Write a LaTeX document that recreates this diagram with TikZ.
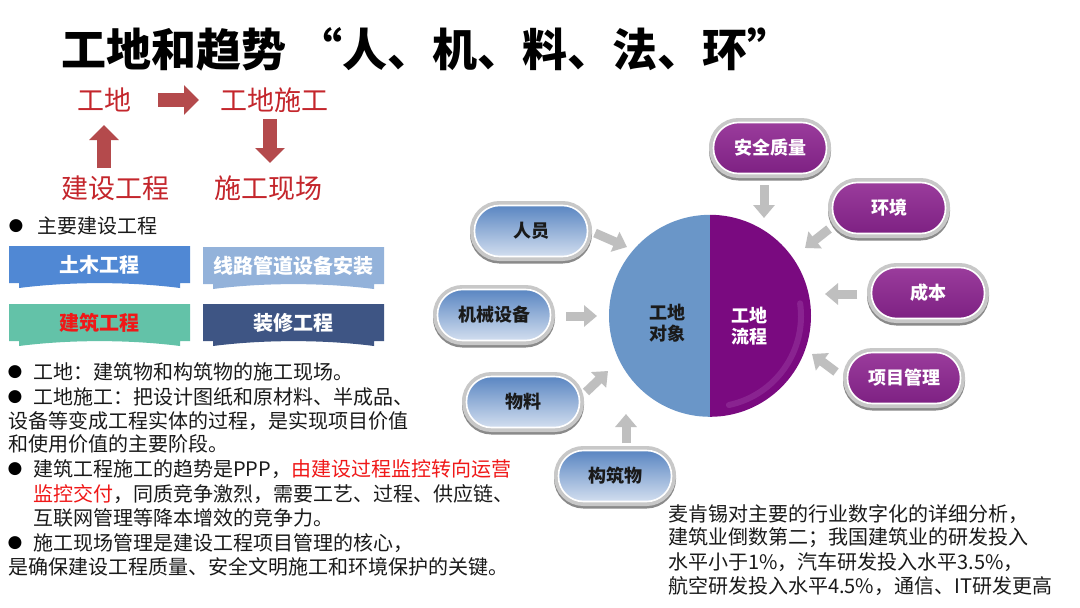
\documentclass[tikz,border=0pt]{standalone}
\usepackage{fontspec}
\setmainfont{Noto Sans CJK SC}
\newfontfamily\dejavu{DejaVu Sans}
\usetikzlibrary{arrows.meta,calc}
\definecolor{txt}{HTML}{1A1A1A}
\definecolor{dred}{HTML}{C4262C}
\definecolor{brred}{HTML}{F01818}
\definecolor{arrred}{HTML}{B44A4C}
\definecolor{arrgray}{HTML}{BFBFBF}
\definecolor{bA}{HTML}{5088D4}
\definecolor{bB}{HTML}{93B2DA}
\definecolor{bC}{HTML}{63C2A8}
\definecolor{bD}{HTML}{3E5584}
\definecolor{bltop}{HTML}{5A86C2}
\definecolor{blbot}{HTML}{D2DEEF}
\definecolor{pltop}{HTML}{9A3C9C}
\definecolor{plbot}{HTML}{7E2183}
\definecolor{rimlight}{HTML}{C8C8C8}
\definecolor{rimdark}{HTML}{8A8A8A}
\definecolor{cblue}{HTML}{6A96C8}
\definecolor{cpurple}{HTML}{7A0A80}
\definecolor{chi}{HTML}{A14AA8}
\tikzset{
 bodytext/.style={anchor=west, inner sep=0pt, text=txt, font=\fontsize{20}{24}\selectfont},
 bul/.style={inner sep=0pt, text=black, font=\dejavu\fontsize{17}{20}\selectfont},
 redlab/.style={inner sep=0pt, text=dred, font=\fontsize{27}{30}\selectfont},
 redarrow/.style={draw=arrred, line width=14pt, -{Triangle[width=29pt,length=15pt]}},
 grayarrow/.style={draw=arrgray, line width=9pt, -{Triangle[width=21pt,length=13pt]}},
 pillbase/.style={rounded corners=25pt, minimum width=113pt, minimum height=51pt, inner sep=0pt,
   draw=white, line width=1.6pt, font=\fontsize{18}{20}\selectfont\bfseries,
   preaction={draw=rimdark, line width=9pt, transform canvas={yshift=-2.5pt}},
   preaction={draw=rimlight, line width=9pt}},
 bluepill/.style={pillbase, top color=bltop, bottom color=blbot, text=txt},
 purplepill/.style={pillbase, top color=pltop, bottom color=plbot, text=white},
 bannertext/.style={inner sep=0pt, font=\fontsize{20}{22}\selectfont\bfseries},
 coretext/.style={inner sep=0pt, align=center, font=\fontsize{18}{21}\selectfont\bfseries},
}
\newcommand\myribbon[6]{%
 \begin{scope}[shift={(#1,#2)}]
 \fill[#3] (0,0) -- (181,0) -- (181,37) -- (171,37) -- (171,42)
   .. controls (120,35.5) and (61,35.5) .. (10,42) -- (10,37) -- (0,37) -- cycle;
 \node[bannertext, text=#6] (#4) at (90.5,19) {#5};
 \end{scope}}
\begin{document}
\begin{tikzpicture}[x=1pt,y=-1pt]
\useasboundingbox (0,0) rectangle (1080,608);
\fill[white] (0,0) rectangle (1080,608);
% title
\node[anchor=west, inner sep=0pt, text=black, font=\fontsize{45}{48}\selectfont\bfseries] (title) at (61,49) {工地和趋势\hspace{11pt}“人、机、料、法、环”};
% red concept labels
\node[redlab] (gd) at (104,100) {工地};
\node[redlab] (gdsg) at (274,100) {工地施工};
\node[redlab] (jsgc) at (115,188) {建设工程};
\node[redlab] (sgxc) at (268,188) {施工现场};
\coordinate (ra1) at (158,100); \coordinate (ra2) at (199,100);
\coordinate (da1) at (270,119); \coordinate (da2) at (270,163);
\coordinate (ua1) at (104,168); \coordinate (ua2) at (104,125);
\draw[redarrow] (ra1) -- (ra2);
\draw[redarrow] (da1) -- (da2);
\draw[redarrow] (ua1) -- (ua2);
% main projects
\node[bul] (b0) at (16,226) {●};
\node[bodytext] (zy) at (37,226) {主要建设工程};
\myribbon{9}{246}{bA}{tm}{土木工程}{white}
\myribbon{203}{247}{bB}{xl}{线路管道设备安装}{white}
\myribbon{9}{304}{bC}{jz}{建筑工程}{brred}
\myribbon{203}{304}{bD}{zx}{装修工程}{white}
% bullet text
\node[bul] (b1) at (15,372) {●};
\node[bodytext] (l1) at (33,372) {工地：建筑物和构筑物的施工现场。};
\node[bul] (b2) at (15,397) {●};
\node[bodytext] (l2) at (33,397) {工地施工：把设计图纸和原材料、半成品、};
\node[bodytext] (l3) at (8,421) {设备等变成工程实体的过程，是实现项目价值};
\node[bodytext] (l4) at (8,444) {和使用价值的主要阶段。};
\node[bul] (b3) at (15,469) {●};
\node[bodytext] (l5) at (33,469) {建筑工程施工的趋势是PPP，\textcolor{brred}{由建设过程监控转向运营}};
\node[bodytext] (l6) at (33,494) {\textcolor{brred}{监控交付}，同质竞争激烈，需要工艺、过程、供应链、};
\node[bodytext] (l7) at (33,518) {互联网管理等降本增效的竞争力。};
\node[bul] (b4) at (15,543) {●};
\node[bodytext] (l8) at (33,543) {施工现场管理是建设工程项目管理的核心，};
\node[bodytext] (l9) at (8,567) {是确保建设工程质量、安全文明施工和环境保护的关键。};
% core circle
\node[circle, minimum size=202pt, inner sep=0pt] (core) at (710,316) {};
\fill[cblue] (core.north) arc[start angle=90, end angle=270, radius=101pt] -- cycle;
\fill[cpurple] (core.north) arc[start angle=90, end angle=-90, radius=101pt] -- cycle;
\draw[chi, line width=6pt, opacity=0.4, line cap=round] ([shift={(8:91pt)}]core.center) arc[start angle=8, end angle=-78, radius=91pt];
\node[coretext, text=txt] (obj) at (667,323) {工地\\对象};
\node[coretext, text=white] (flow) at (749,326) {工地\\流程};
% pills
\node[bluepill] (ry) at (531,231) {人员};
\node[bluepill] (jx) at (494,315) {机械设备};
\node[bluepill] (wl) at (523,402) {物料};
\node[bluepill] (gz) at (615,476) {构筑物};
\node[purplepill] (aq) at (770,148) {安全质量};
\node[purplepill] (hj) at (889,208) {环境};
\node[purplepill] (cb) at (928,293) {成本};
\node[purplepill] (xm) at (904,378) {项目管理};
% gray arrows
\coordinate (g1s) at (764,185); \coordinate (g1e) at (764,218);
\coordinate (g2s) at (829,229); \coordinate (g2e) at (805,248);
\coordinate (g3s) at (857,294); \coordinate (g3e) at (825,294);
\coordinate (g4s) at (836,372); \coordinate (g4e) at (812,354);
\coordinate (g5s) at (595,233); \coordinate (g5e) at (627,247);
\coordinate (g6s) at (566,316); \coordinate (g6e) at (597,316);
\coordinate (g7s) at (586,392); \coordinate (g7e) at (608,371);
\coordinate (g8s) at (626,443); \coordinate (g8e) at (626,414);
\foreach \s/\e in {g1s/g1e,g2s/g2e,g3s/g3e,g4s/g4e,g5s/g5e,g6s/g6e,g7s/g7e,g8s/g8e}
  \draw[grayarrow] (\s) -- (\e);
% note text
\node[bodytext] (n1) at (668,514) {麦肯锡对主要的行业数字化的详细分析，};
\node[bodytext] (n2) at (668,538) {建筑业倒数第二；我国建筑业的研发投入};
\node[bodytext] (n3) at (668,562) {水平小于1\%，汽车研发投入水平3.5\%，};
\node[bodytext] (n4) at (668,586) {航空研发投入水平4.5\%，通信、IT研发更高};
\end{tikzpicture}
\end{document}
